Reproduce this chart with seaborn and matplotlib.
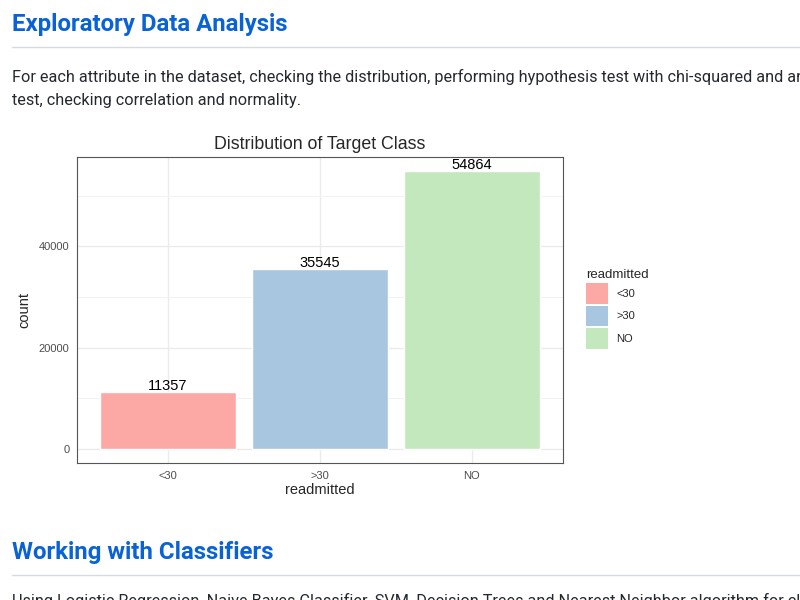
import matplotlib
matplotlib.use("Agg")
import matplotlib.pyplot as plt
from matplotlib.lines import Line2D
from matplotlib.patches import Patch
from matplotlib.ticker import FixedLocator
import seaborn as sns

# data
readmitted = ["<30", ">30", "NO"]
counts = [11357, 35545, 54864]
bar_colors = ["#FCA9A5", "#A8C6DF", "#C4E8BD"]
y_ticks = [0, 20000, 40000]
y_minor = [10000, 30000, 50000]

sns.set_style("white")
plt.rcParams["font.family"] = ["Liberation Sans", "DejaVu Sans"]

W, H = 800, 600
fig = plt.figure(figsize=(W / 100, H / 100), dpi=100)


def fx(px):
    return px / W


def fy(py):
    return 1 - py / H


# surrounding page text
web = ["Roboto", "DejaVu Sans"]
blue = "#0a63d6"
ink = "#24292f"
rule = "#d5dbe1"

fig.text(fx(12), fy(25), "Exploratory Data Analysis", family=web,
         weight="bold", fontsize=17.3, color=blue, va="center")
fig.add_artist(Line2D([fx(12), 1], [fy(46.5)] * 2, color=rule, lw=1))
fig.text(fx(12), fy(77),
         "For each attribute in the dataset, checking the distribution, "
         "performing hypothesis test with chi-squared and anova",
         family=web, fontsize=11.72, color=ink, va="center")
fig.text(fx(12), fy(100), "test, checking correlation and normality.",
         family=web, fontsize=11.72, color=ink, va="center")

fig.text(fx(12), fy(552), "Working with Classifiers", family=web,
         weight="bold", fontsize=17.3, color=blue, va="center")
fig.add_artist(Line2D([fx(12), 1], [fy(574.5)] * 2, color=rule, lw=1))
fig.text(fx(12), fy(593),
         "Using Logistic Regression, Naive Bayes Classifier, SVM, Decision "
         "Trees and Nearest Neighbor algorithm for classification",
         family=web, fontsize=11.72, color=ink, va="top")

# chart
ax = fig.add_axes([fx(77), fy(463), fx(563) - fx(77), (463 - 157) / H])
sns.barplot(x=readmitted, y=counts, hue=readmitted, palette=bar_colors,
            width=0.9, saturation=1, ax=ax, legend=False)

top = max(counts)
ax.set_xlim(-0.6, 2.6)
ax.set_ylim(-0.05 * top, 1.05 * top)
ax.yaxis.set_major_locator(FixedLocator(y_ticks))
ax.yaxis.set_minor_locator(FixedLocator(y_minor))
ax.set_axisbelow(True)
ax.grid(which="major", color="#EBEBEB", lw=1.0)
ax.grid(which="minor", axis="y", color="#F2F2F2", lw=0.7)
for s in ax.spines.values():
    s.set_color("#555555")
    s.set_linewidth(0.8)
    s.set_visible(True)
ax.tick_params(which="major", direction="out", length=3.5, width=0.8,
               color="#555555", labelcolor="#4D4D4D", labelsize=8, pad=2)
ax.tick_params(which="minor", length=0)

for c in ax.containers:
    ax.bar_label(c, fmt="%d", fontsize=10.5, padding=-1, color="black")

ax.set_xlabel("readmitted", fontsize=10.5, labelpad=2)
ax.set_ylabel("count", fontsize=10.5, labelpad=5)
ax.set_title("Distribution of Target Class", fontsize=12.8, pad=6)

handles = [Patch(facecolor=c, edgecolor="none", label=l)
           for l, c in zip(readmitted, bar_colors)]
fig.legend(handles=handles, title="readmitted", loc="upper left",
           bbox_to_anchor=(fx(586), fy(269)), frameon=False, fontsize=8,
           title_fontsize=9.5, handlelength=1.95, handleheight=2.45,
           handletextpad=0.8, labelspacing=0.2, borderpad=0,
           borderaxespad=0, alignment="left")
leg = fig.legends[-1]
leg._legend_handle_box.sep = 6

fig.savefig("out.png", dpi=100)
